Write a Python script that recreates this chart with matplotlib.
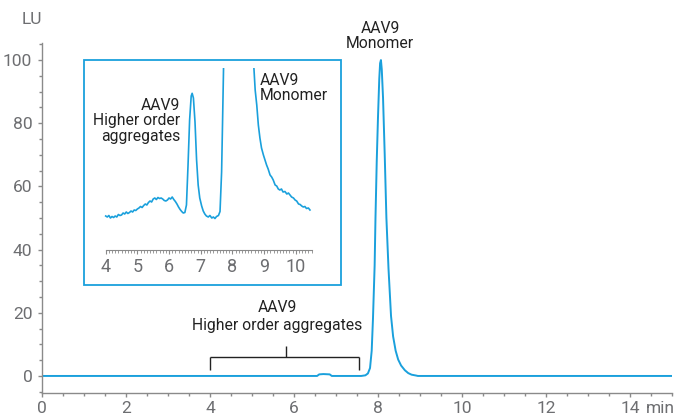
import matplotlib
matplotlib.use("Agg")
import matplotlib.pyplot as plt
from matplotlib.patches import Rectangle
from matplotlib.ticker import MultipleLocator
from matplotlib.transforms import offset_copy

plt.rcParams['font.family'] = ['Roboto', 'DejaVu Sans']

BLUE = '#1aa0dc'
GRAY = '#6d6e71'
SPINE = '#8a8a8a'
ANN = 11.3

# Main chromatogram (min, LU)
main_t = [0.0, 6.55, 6.6, 6.7, 6.85, 6.9, 7.6, 7.7, 7.76, 7.81, 7.85, 7.88, 7.92, 7.94, 7.97,
          8.0, 8.03, 8.05, 8.07, 8.09, 8.12, 8.16, 8.2, 8.25, 8.31, 8.36, 8.42, 8.48,
          8.55, 8.64, 8.72, 8.8, 8.9, 8.95, 15.0]
main_lu = [0.0, 0.0, 0.5, 0.6, 0.5, 0.0, 0.0, 0.2, 0.8, 2.5, 8.0, 18.0, 35.0, 50.0, 68.0,
           82.0, 94.0, 99.0, 100.0, 97.0, 88.0, 70.0, 50.0, 34.0, 19.0, 12.5, 8.0, 5.2,
           3.3, 1.8, 0.9, 0.4, 0.15, 0.0, 0.0]

# Zoomed inset trace (min, arbitrary offset units)
inset_t = [4.00, 4.05, 4.10, 4.15, 4.20, 4.25, 4.30, 4.35, 4.40, 4.45, 4.50, 4.55, 4.60,
           4.65, 4.70, 4.75, 4.80, 4.85, 4.90, 4.95, 5.00, 5.05, 5.10, 5.15, 5.20, 5.25,
           5.30, 5.35, 5.40, 5.45, 5.50, 5.55, 5.60, 5.65, 5.70, 5.75, 5.80, 5.85, 5.90,
           5.95, 6.00, 6.05, 6.10, 6.15, 6.20, 6.25, 6.30, 6.35, 6.40, 6.45, 6.50,
           6.55, 6.60, 6.65, 6.70, 6.73, 6.77, 6.82, 6.87, 6.92, 6.97, 7.03, 7.08, 7.13,
           7.18, 7.24, 7.29, 7.35, 7.40, 7.45, 7.50, 7.56, 7.61, 7.66, 7.69, 7.72, 7.75,
           7.80, 8.05, 8.60, 8.68, 8.72, 8.77, 8.82, 8.87, 8.92, 8.98, 9.03, 9.08, 9.13,
           9.19, 9.24, 9.29, 9.35, 9.40, 9.45, 9.50, 9.55, 9.60, 9.66, 9.72, 9.77, 9.82,
           9.87, 9.93, 9.98, 10.03, 10.09, 10.14, 10.19, 10.24, 10.29, 10.34, 10.40, 10.45]
inset_y = [3.40, 3.30, 3.45, 3.20, 3.35, 3.25, 3.40, 3.30, 3.55, 3.45, 3.50, 3.70, 3.60,
           3.80, 3.65, 3.75, 3.90, 3.80, 4.00, 3.95, 4.10, 4.20, 4.35, 4.25, 4.45, 4.60,
           4.50, 4.75, 4.90, 4.80, 5.10, 5.20, 5.05, 5.25, 5.15, 5.20, 5.10, 4.95, 4.90,
           5.00, 5.20, 5.10, 5.30, 5.05, 4.85, 4.60, 4.30, 4.05, 3.85, 3.70, 3.75,
           4.50, 8.50, 13.0, 15.4, 15.67, 15.2, 12.8, 9.0, 6.5, 5.2, 4.4, 3.9, 3.6,
           3.4, 3.3, 3.45, 3.2, 3.3, 3.15, 3.35, 3.45, 3.85, 7.8, 12.8, 18.0, 25.0,
           40.0, 200.0, 30.0, 18.2, 16.0, 14.5, 12.5, 11.2, 10.2, 9.5, 9.0, 8.5, 8.1,
           7.5, 7.3, 7.0, 6.5, 6.4, 6.1, 6.0, 6.1, 5.8, 5.85, 5.6, 5.7, 5.5,
           5.3, 5.2, 5.0, 4.9, 4.6, 4.55, 4.4, 4.3, 4.35, 4.15, 4.2, 4.0]

x_ticks = [0, 2, 4, 6, 8, 10, 12, 14]
x_labels = ['0', '2', '4', '6', '8', '10', '12', '14']
y_ticks = [0, 20, 40, 60, 80, 100]
inset_ticks = [4, 5, 6, 7, 8, 9, 10]
inset_range = (4.0, 10.5)

W, H = 678, 416
fig = plt.figure(figsize=(W / 100, H / 100), dpi=100)

# ---------------- main axes ----------------
ax_bottom_px, ax_top_px = 392.7, 43.0
ax = fig.add_axes([42 / W, (H - ax_bottom_px) / H, 630 / W, (ax_bottom_px - ax_top_px) / H])
ax.plot(main_t, main_lu, color=BLUE, lw=1.4)
ax.set_xlim(0, 15)
ax.set_ylim(-5.3, 105.4)
for s in ['top', 'right']:
    ax.spines[s].set_visible(False)
for s in ['left', 'bottom']:
    ax.spines[s].set_color(SPINE)
    ax.spines[s].set_linewidth(1.0)
ax.set_xticks(x_ticks)
ax.set_xticklabels(x_labels)
ax.set_yticks(y_ticks)
ax.xaxis.set_minor_locator(MultipleLocator(0.5))
ax.yaxis.set_minor_locator(MultipleLocator(5))
ax.tick_params(axis='both', which='major', length=3, width=1, color=SPINE,
               labelcolor=GRAY, labelsize=12.5)
ax.tick_params(axis='both', which='minor', length=2, width=1, color=SPINE)
ax.yaxis.set_tick_params(pad=4)
ax.xaxis.set_tick_params(pad=3)
min_tr = offset_copy(ax.transData, fig=fig, y=-6, units='points')
ax.text(14.38, -5.3, 'min', color=GRAY, fontsize=12.5, ha='left', va='top',
        transform=min_tr, clip_on=False)
fig.text(22 / W, 1 - 20 / H, 'LU', color=GRAY, fontsize=12.5, ha='left', va='center')

# annotations
ax.text(8.05, 107.6, 'AAV9\nMonomer', ha='center', va='center', fontsize=ANN,
        color='#222222', linespacing=1.0, clip_on=False)
ax.text(5.6, 18.8, 'AAV9\nHigher order aggregates', ha='center', va='center',
        fontsize=ANN, color='#222222', linespacing=1.2)
bk = dict(color='#222222', lw=1.0, solid_capstyle='butt')
ax.plot([4.0, 4.0], [1.9, 6.0], **bk)
ax.plot([4.0, 7.55], [6.0, 6.0], **bk)
ax.plot([7.55, 7.55], [6.0, 1.9], **bk)
ax.plot([5.8, 5.8], [6.0, 9.5], **bk)

# ---------------- inset ----------------
fig.patches.append(Rectangle((84 / W, (H - 285) / H), 257 / W, 225 / H,
                             transform=fig.transFigure, fill=False,
                             edgecolor=BLUE, lw=1.3))
ia = fig.add_axes([84 / W, (H - 285) / H, 257 / W, 217 / H])
ia.patch.set_alpha(0)
ia.plot(inset_t, inset_y, color=BLUE, lw=1.2)
ia.set_xlim(3.315, 11.43)
ia.set_ylim(-3.5, 18.2)
for s in ['top', 'right', 'left']:
    ia.spines[s].set_visible(False)
ia.spines['bottom'].set_position(('data', 0))
ia.spines['bottom'].set_bounds(*inset_range)
ia.spines['bottom'].set_color(SPINE)
ia.set_yticks([])
ia.set_xticks(inset_ticks)
n_minor = int(round((inset_range[1] - inset_range[0]) / 0.1))
ia.set_xticks([inset_range[0] + 0.1 * i for i in range(n_minor + 1)], minor=True)
ia.tick_params(axis='x', which='major', length=3, width=0.8, color=SPINE,
               labelcolor=GRAY, labelsize=13, pad=3)
ia.tick_params(axis='x', which='minor', length=1.8, width=0.6, color=SPINE)
ia.text(6.35, 12.9, 'AAV9\nHigher order\naggregates', ha='right', va='center',
        multialignment='right', fontsize=ANN, color='#222222', linespacing=1.05)
ia.text(8.87, 16.2, 'AAV9\nMonomer', ha='left', va='center', fontsize=ANN,
        color='#222222', linespacing=1.0, clip_on=False)

fig.savefig('out.png', dpi=100)
